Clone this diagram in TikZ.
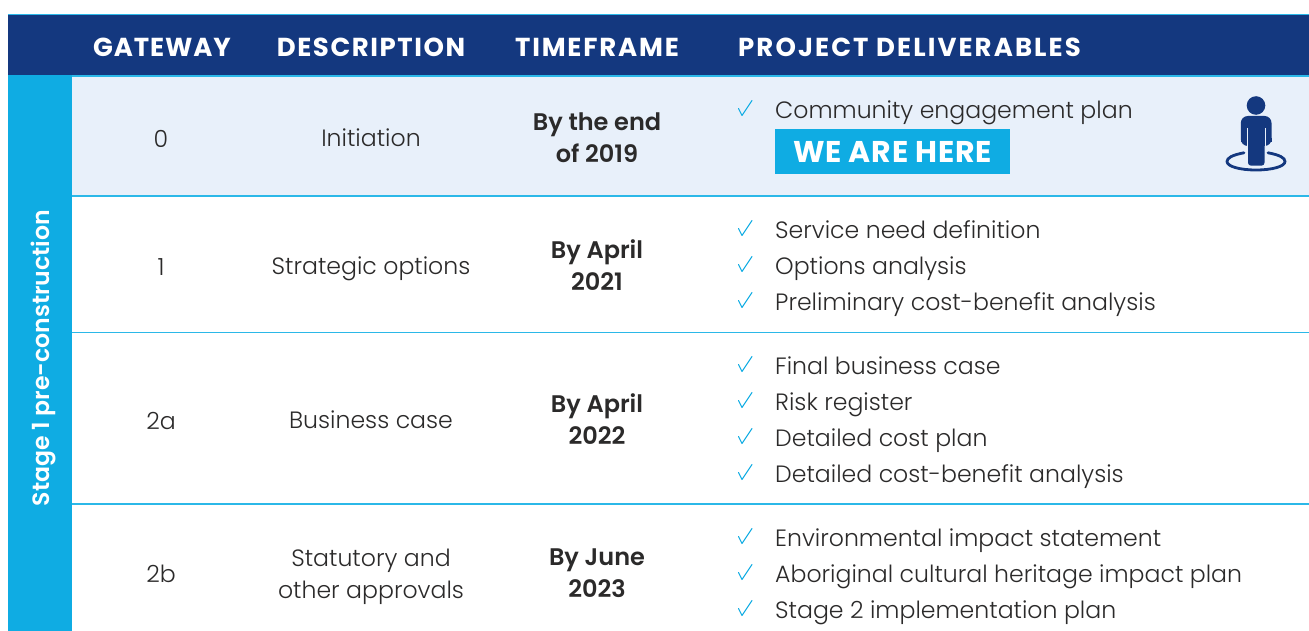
\documentclass[tikz,border=0pt]{standalone}
\usepackage{fontspec}
\setmainfont{Poppins}[UprightFont=* Light,BoldFont=* SemiBold]
\newfontfamily\heavyfont{Poppins}[UprightFont=* Bold]
\definecolor{navy}{HTML}{14387F}
\definecolor{sky}{HTML}{0FACE3}
\definecolor{rule}{HTML}{2BB8E8}
\definecolor{pale}{HTML}{E8F0FA}
\definecolor{ink}{HTML}{2B2A2A}
\tikzset{x=1pt,y=-1pt,
  head/.style={inner sep=0pt,text=white,font=\fontsize{26}{28}\selectfont\heavyfont},
  body/.style={inner sep=0pt,text=ink,align=center,font=\fontsize{23.6}{32}\selectfont,execute at begin node=\strut,execute at end node=\strut},
  when/.style={inner sep=0pt,text=ink,align=center,font=\fontsize{24}{32}\selectfont\bfseries,execute at begin node=\strut,execute at end node=\strut},
  item/.style={inner sep=0pt,anchor=base west,text=ink,font=\fontsize{23.6}{32}\selectfont},
  tick/.style={draw=sky,line width=1pt,line cap=round,line join=round},
  sep/.style={draw=rule,line width=1.2pt},
  tickmark/.pic={\path[tick] (-9,-2) -- (-5.5,5) -- (4.5,-10);}
}
\begin{document}
\begin{tikzpicture}
\useasboundingbox (0,0) rectangle (1309,631);
\fill[white] (0,0) rectangle (1309,631);
\fill[navy] (8,15) rectangle (1309,75);
\fill[sky] (8,75) rectangle (72,631);
\fill[pale] (72,76) rectangle (1309,196);
\draw[sep] (8,14.5) -- (1309,14.5);
\draw[sep] (72,76) -- (1309,76);
\draw[sep] (72,196) -- (1309,196);
\draw[sep] (72,332.5) -- (1309,332.5);
\draw[sep] (72,504) -- (1309,504);
\node[head] (h1) at (162,47) {\addfontfeature{LetterSpace=3.5}GATEWAY};
\node[head] (h2) at (371,47) {\addfontfeature{LetterSpace=6}DESCRIPTION};
\node[head] (h3) at (597,47) {\addfontfeature{LetterSpace=7}TIMEFRAME};
\node[head,anchor=west] (h4) at (738,47) {\addfontfeature{LetterSpace=8}PROJECT DELIVERABLES};
\node[inner sep=0pt,rotate=90,text=white,font=\fontsize{23.6}{26}\selectfont\bfseries] (stage) at (43,358) {Stage 1 pre-construction};
\node[body] (g0) at (161,141) {0};
\node[body] (d0) at (371,140.6) {Initiation};
\node[when] (t0) at (597,142.2) {By the end\\of 2019};
\node[body] (g1) at (161,268.6) {1};
\node[body] (d1) at (371,267.6) {Strategic options};
\node[when] (t1) at (597,270.1) {By April\\2021};
\node[body] (g2) at (161,422.6) {2a};
\node[body] (d2) at (371,421.6) {Business case};
\node[when] (t2) at (597,424.1) {By April\\2022};
\node[body] (g3) at (161,575.6) {2b};
\node[body] (d3) at (371,578.6) {Statutory and\\other approvals};
\node[when] (t3) at (597,578.1) {By June\\2023};
\foreach \yy/\tx in {118.5/Community engagement plan,238.5/Service need definition,274.5/Options analysis,310.5/Preliminary cost-benefit analysis,374.5/Final business case,410.5/Risk register,446.5/Detailed cost plan,482.5/Detailed cost-benefit analysis,546.5/Environmental impact statement,582.5/Aboriginal cultural heritage impact plan,618.5/Stage 2 implementation plan}{
  \node[item] at (775,\yy) {\tx};
  \pic at (747.5,\yy-8) {tickmark};
}
\node[fill=sky,text=white,inner sep=0pt,minimum width=235,minimum height=45,font=\fontsize{30}{32}\selectfont\heavyfont\addfontfeature{LetterSpace=2.5}] (here) at (892.5,151.5) {\raisebox{-1.5pt}{WE ARE HERE}};
% person icon
\fill[navy] (1256,105.5) circle (9.3);
\fill[navy,rounded corners=7] (1240.8,146) -- (1240.8,116) -- (1271.5,116) -- (1271.5,146) -- cycle;
\fill[navy,rounded corners=3] (1248,135) rectangle (1264.5,165.7);
\fill[navy] (1240.8,138) rectangle (1271.5,142);
\draw[pale,line width=0.8pt] (1247.6,128) -- (1247.6,147);
\draw[pale,line width=0.8pt] (1264.9,128) -- (1264.9,147);
\fill[pale] (1240,146) rectangle (1247.4,148);
\fill[pale] (1265.1,146) rectangle (1272,148);
\draw[navy,line width=2.8pt,line cap=round] (1244,152.8) .. controls (1232,155) and (1227,158) .. (1227,161.5) .. controls (1227,166.5) and (1240,170) .. (1256,170) .. controls (1272,170) and (1285,166.5) .. (1285,161.5) .. controls (1285,158) and (1280,155) .. (1268,152.8);
\end{tikzpicture}
\end{document}
